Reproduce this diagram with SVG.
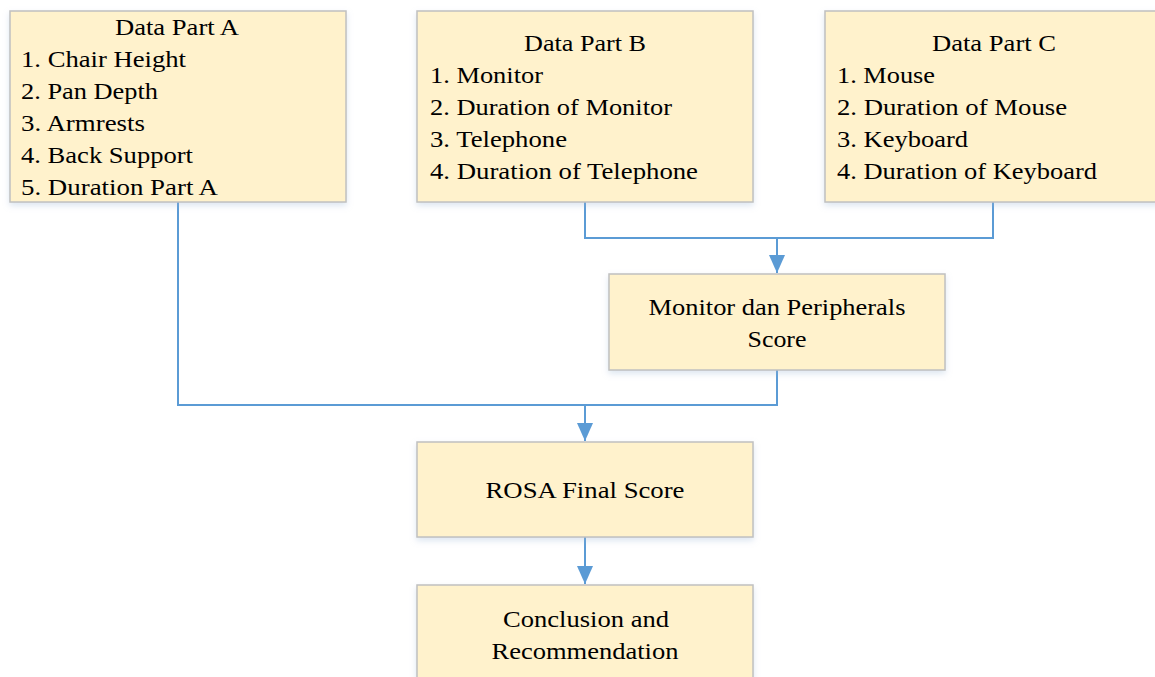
<svg xmlns="http://www.w3.org/2000/svg" width="1155" height="677" viewBox="0 0 1155 677">
<style>
.box{fill:#FFF2CC;stroke:#C0C0C0;stroke-width:1.5;filter:url(#sh)}
text{font-family:'Liberation Serif','Times New Roman',serif;font-size:24px;fill:#000}
.c{text-anchor:middle}
.ln{fill:none;stroke:#5B9BD5;stroke-width:2}
</style>
<defs>
<filter id="sh" x="-10%" y="-10%" width="120%" height="130%">
<feDropShadow dx="0" dy="3" stdDeviation="3" flood-color="#9DB7D5" flood-opacity="0.35"/>
</filter>
<marker id="ar" markerWidth="16" markerHeight="18" refX="8" refY="18" orient="0" markerUnits="userSpaceOnUse">
<path d="M0,0 L16,0 L8,18 Z" fill="#5B9BD5"/>
</marker>
</defs>
<rect width="1155" height="677" fill="#fff"/>
<g id="connectors">
<path class="ln" d="M178,202 V405 H777 V370"/>
<path class="ln" d="M585,405 V441" marker-end="url(#ar)"/>
<path class="ln" d="M585,202 V238 H993 V202"/>
<path class="ln" d="M777,238 V273" marker-end="url(#ar)"/>
<path class="ln" d="M585,537 V584" marker-end="url(#ar)"/>
</g>
<g id="partA">
<rect class="box" x="10" y="11" width="336" height="191"/>
<text class="c" x="177" y="35" textLength="124" lengthAdjust="spacingAndGlyphs">Data Part A</text>
<text x="21" y="67" textLength="165" lengthAdjust="spacingAndGlyphs">1. Chair Height</text>
<text x="21" y="99" textLength="137" lengthAdjust="spacingAndGlyphs">2. Pan Depth</text>
<text x="21" y="131" textLength="124" lengthAdjust="spacingAndGlyphs">3. Armrests</text>
<text x="21" y="163" textLength="172" lengthAdjust="spacingAndGlyphs">4. Back Support</text>
<text x="21" y="195" textLength="197" lengthAdjust="spacingAndGlyphs">5. Duration Part A</text>
</g>
<g id="partB">
<rect class="box" x="417" y="11" width="336" height="191"/>
<text class="c" x="585" y="51" textLength="122" lengthAdjust="spacingAndGlyphs">Data Part B</text>
<text x="430" y="83" textLength="113" lengthAdjust="spacingAndGlyphs">1. Monitor</text>
<text x="430" y="115" textLength="242" lengthAdjust="spacingAndGlyphs">2. Duration of Monitor</text>
<text x="430" y="147" textLength="137" lengthAdjust="spacingAndGlyphs">3. Telephone</text>
<text x="430" y="179" textLength="268" lengthAdjust="spacingAndGlyphs">4. Duration of Telephone</text>
</g>
<g id="partC">
<rect class="box" x="825" y="11" width="336" height="191"/>
<text class="c" x="994" y="51" textLength="124" lengthAdjust="spacingAndGlyphs">Data Part C</text>
<text x="837" y="83" textLength="98" lengthAdjust="spacingAndGlyphs">1. Mouse</text>
<text x="837" y="115" textLength="230" lengthAdjust="spacingAndGlyphs">2. Duration of Mouse</text>
<text x="837" y="147" textLength="131" lengthAdjust="spacingAndGlyphs">3. Keyboard</text>
<text x="837" y="179" textLength="260" lengthAdjust="spacingAndGlyphs">4. Duration of Keyboard</text>
</g>
<g id="monitor">
<rect class="box" x="609" y="274" width="336" height="96"/>
<text class="c" x="777" y="315" textLength="257" lengthAdjust="spacingAndGlyphs">Monitor dan Peripherals</text>
<text class="c" x="777" y="347" textLength="59" lengthAdjust="spacingAndGlyphs">Score</text>
</g>
<g id="rosa">
<rect class="box" x="417" y="442" width="336" height="95"/>
<text class="c" x="585" y="498" textLength="199" lengthAdjust="spacingAndGlyphs">ROSA Final Score</text>
</g>
<g id="conclusion">
<rect class="box" x="417" y="585" width="336" height="110"/>
<text class="c" x="586" y="627" textLength="166" lengthAdjust="spacingAndGlyphs">Conclusion and</text>
<text class="c" x="585" y="659" textLength="187" lengthAdjust="spacingAndGlyphs">Recommendation</text>
</g>
</svg>
